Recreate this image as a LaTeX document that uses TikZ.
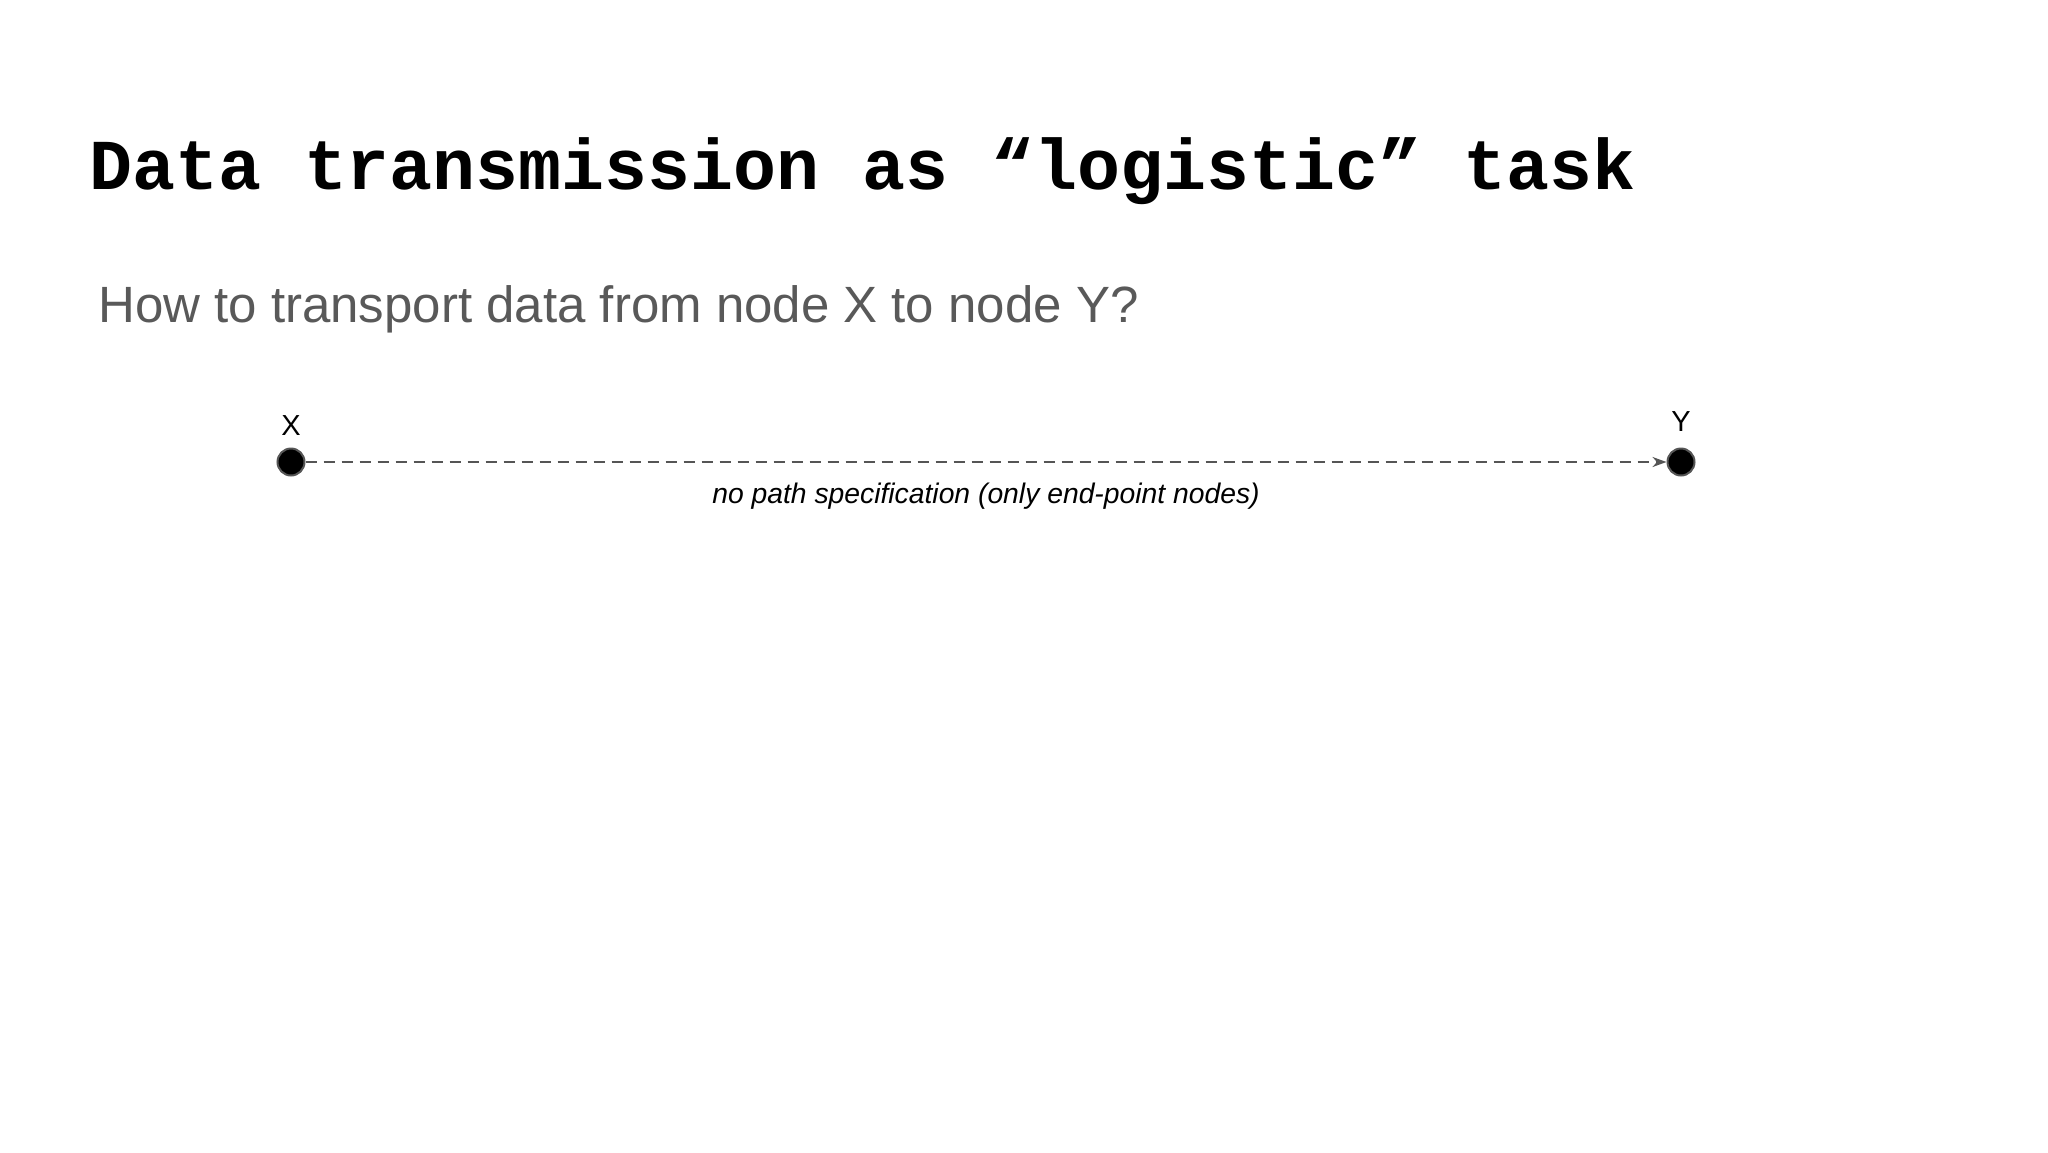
\documentclass[tikz,border=0pt]{standalone}
\usepackage{fontspec}
\setmainfont{Liberation Sans}
\newfontfamily\titlefont{Liberation Mono}
\usetikzlibrary{positioning}
\usetikzlibrary{arrows.meta}
\definecolor{subgray}{HTML}{595959}
\definecolor{linegray}{HTML}{555555}

\begin{document}
\begin{tikzpicture}[x=1pt,y=-1pt]
        \useasboundingbox[fill=white] (0,0) rectangle (2048,1152);
        \tikzset{dot/.style={circle,fill=black,draw=linegray,line width=2pt,minimum size=27pt,inner sep=0pt}}
        \node[anchor=base west,inner sep=0pt] (title) at (89,189) {\fontsize{71.6}{80}\titlefont\bfseries Data transmission as “logistic” task};
        \node[anchor=base west,inner sep=0pt,text=subgray] (question) at (98,322) {\fontsize{51}{60}\selectfont How to transport data from node X to node Y?};
        \node[dot] (x) at (291,462) {};
        \node[dot] (y) at (1681,462) {};
        \node[above=12pt of x,inner sep=0pt] (xlabel) {\fontsize{29}{34}\selectfont X};
        \node[above=16pt of y,inner sep=0pt] (ylabel) {\fontsize{29}{34}\selectfont Y};
        \draw[linegray,line width=2.2pt,dash pattern=on 11pt off 7pt,-{Stealth[length=14pt,width=10pt]}] (x) -- (y) node[midway,below=17pt,text=black] (caption) {\fontsize{28.3}{33}\selectfont\itshape no path specification (only end-point nodes)};
    \end{tikzpicture}
\end{document}
